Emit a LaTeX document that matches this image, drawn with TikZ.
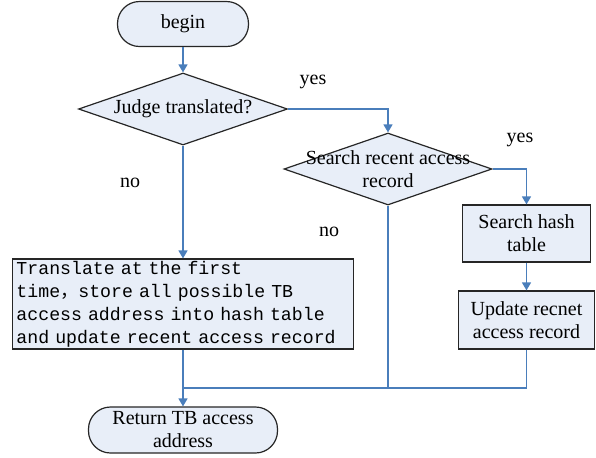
\documentclass[tikz,border=0pt]{standalone}
\usepackage{fontspec}
\setmainfont{Liberation Serif}
\setmonofont{Liberation Mono}
\newfontfamily\cjkfont{Noto Sans CJK SC}
\usetikzlibrary{shapes, arrows.meta, positioning, calc}
\definecolor{boxfill}{RGB}{232,238,248}
\definecolor{flowblue}{RGB}{74,126,187}

\begin{document}
\begin{tikzpicture}[x=0.5pt,y=-0.5pt,
      font=\fontsize{10}{11.5}\selectfont,
      terminal/.style={rectangle, draw=black!85, fill=boxfill, line width=0.6pt,
         rounded corners=11pt, align=center, inner sep=0pt},
      decision/.style={diamond, draw=black!85, fill=boxfill, line width=0.6pt,
         aspect=2.9, inner sep=0pt, align=center},
      process/.style={rectangle, draw=black!85, fill=boxfill, line width=0.6pt,
         align=center, inner sep=0pt},
      flow/.style={draw=flowblue, line width=0.7pt, -{Triangle[length=4pt,width=4.5pt]}}]
            \useasboundingbox (0,0) rectangle (596,457);

            \node [terminal, minimum width=65.5pt, minimum height=22.5pt] at (183,24) (begin) {begin};
            \node [decision, minimum width=104.5pt, minimum height=36pt] at (183,109) (judge) {Judge translated?};
            \node [decision, minimum width=104pt, minimum height=36pt] at (388,169) (search)
                  {\makebox[0pt]{Search recent access}\\record};

            \node [process, minimum width=64pt, minimum height=28.5pt] at (526.5,233.5) (hash) {Search hash\\table};
            \node [process, minimum width=68pt, minimum height=29pt] at (526.5,320) (update) {Update recnet\\access record};

            \node [process, text width=166.5pt, inner xsep=2pt, minimum height=45pt, align=left,
                   font=\ttfamily\fontsize{9.1}{11.5}\selectfont] at (183,304) (translate)
                  {Translate at the first\\
                   time{\cjkfont ，}store all possible TB\\
                   access address into hash table\\
                   and update recent access record};

            \node [terminal, minimum width=94.5pt, minimum height=23pt] at (183,430) (return) {Return TB access\\address};

            % branch labels
            \node at (313,82) (yes1) {yes};
            \node at (520,140) (yes2) {yes};
            \node at (130,183) (no1) {no};
            \node at (329,232) (no2) {no};

            \coordinate (join) at (183,388);

            \draw [flow] (begin) -- (judge);
            \draw [flow] (judge.east) -| (search.north);
            \draw [flow] (search.east) -| (hash.north);
            \draw [flow] (hash) -- (update);
            \draw [flow] (judge.south) -- (translate.north);
            \draw [flow] (translate.south) -- (return.north);
            \draw [flow, -] (search.south) |- (join);
            \draw [flow, -] (update.south) |- (join);
\end{tikzpicture}
\end{document}
